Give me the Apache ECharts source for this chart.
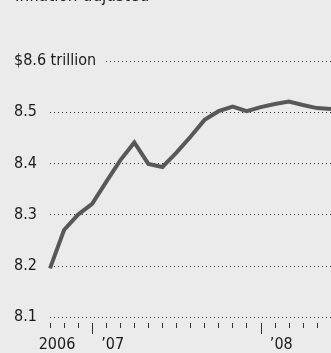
<!DOCTYPE html>
<html>
<head>
<meta charset="utf-8">
<script src="https://cdn.jsdelivr.net/npm/echarts@6/dist/echarts.min.js"></script>
<style>
  html, body { margin: 0; padding: 0; background: #ebebeb; }
  #chart { width: 331px; height: 353px; }
</style>
</head>
<body>
<div id="chart"></div>
<script>
// Monthly points, Oct 2006 to Jun 2008
const months = [
  '2006-10', '2006-11', '2006-12',
  '2007-01', '2007-02', '2007-03', '2007-04', '2007-05', '2007-06',
  '2007-07', '2007-08', '2007-09', '2007-10', '2007-11', '2007-12',
  '2008-01', '2008-02', '2008-03', '2008-04', '2008-05', '2008-06'
];
// $ trillion, inflation-adjusted
const values = [
  8.195, 8.270, 8.300, 8.321,
  8.364, 8.406, 8.441, 8.399, 8.393, 8.421,
  8.452, 8.485, 8.502, 8.511, 8.502, 8.510,
  8.516, 8.521, 8.514, 8.508, 8.506
];
const yearLabels = { '2006-10': '2006', '2007-01': '\u201907', '2008-01': '\u201908' };
const yearStarts = ['2007-01', '2008-01'];

const FONT = '"Liberation Sans Narrow", "DejaVu Sans Condensed", "Roboto Condensed", "Liberation Sans", sans-serif';
const TEXT = '#1a1a1a';
const BG = '#ebebeb';
const FS = 16;

const chart = echarts.init(document.getElementById('chart'), null, { renderer: 'canvas' });

chart.setOption({
  backgroundColor: BG,
  animation: false,
  textStyle: { fontFamily: FONT },
  graphic: [{
    type: 'text',
    left: 15,
    top: -12,
    style: { text: 'Inflation-adjusted', font: '17px ' + FONT, fill: TEXT }
  }],
  grid: { left: 50, right: -8, top: 61, bottom: 36 },
  xAxis: [{
    type: 'category',
    data: months,
    boundaryGap: false,
    offset: 6,
    axisLine: { show: false },
    axisTick: { show: true, interval: 0, length: 5, lineStyle: { color: '#333', width: 1 } },
    axisLabel: {
      interval: (i, v) => v in yearLabels,
      margin: 14,
      fontSize: FS,
      fontFamily: FONT,
      color: TEXT,
      formatter: v => v === '2006-10' ? '{a|' + yearLabels[v] + '}' : '{b|' + yearLabels[v] + '}',
      rich: {
        a: { fontSize: FS, fontFamily: FONT, color: TEXT, padding: [0, 0, 0, 14] },
        b: { fontSize: FS, fontFamily: FONT, color: TEXT, padding: [0, 0, 0, 41] }
      }
    },
    splitLine: { show: false }
  }, {
    type: 'category',
    data: months,
    boundaryGap: false,
    position: 'bottom',
    offset: 6,
    axisLine: { show: false },
    axisTick: { show: true, interval: (i, v) => yearStarts.includes(v), length: 11, lineStyle: { color: '#333', width: 1 } },
    axisLabel: { show: false },
    splitLine: { show: false }
  }],
  yAxis: {
    type: 'value',
    min: 8.1,
    max: 8.6,
    interval: 0.1,
    axisLine: { show: false },
    axisTick: { show: false },
    axisLabel: {
      align: 'left',
      margin: 36,
      fontSize: FS,
      fontFamily: FONT,
      color: TEXT,
      formatter: v => Math.abs(v - 8.6) < 1e-6 ? '{t|$8.6 trillion}' : v.toFixed(1),
      rich: {
        t: { fontSize: FS, fontFamily: FONT, color: TEXT, backgroundColor: BG, padding: [2, 9, 2, 0] }
      }
    },
    splitLine: { show: true, lineStyle: { type: [1, 3], color: '#333', width: 1 } }
  },
  series: [{
    type: 'line',
    xAxisIndex: 0,
    data: values,
    symbol: 'none',
    lineStyle: { color: '#585858', width: 4, join: 'miter' },
    clip: false
  }]
});
</script>
</body>
</html>
